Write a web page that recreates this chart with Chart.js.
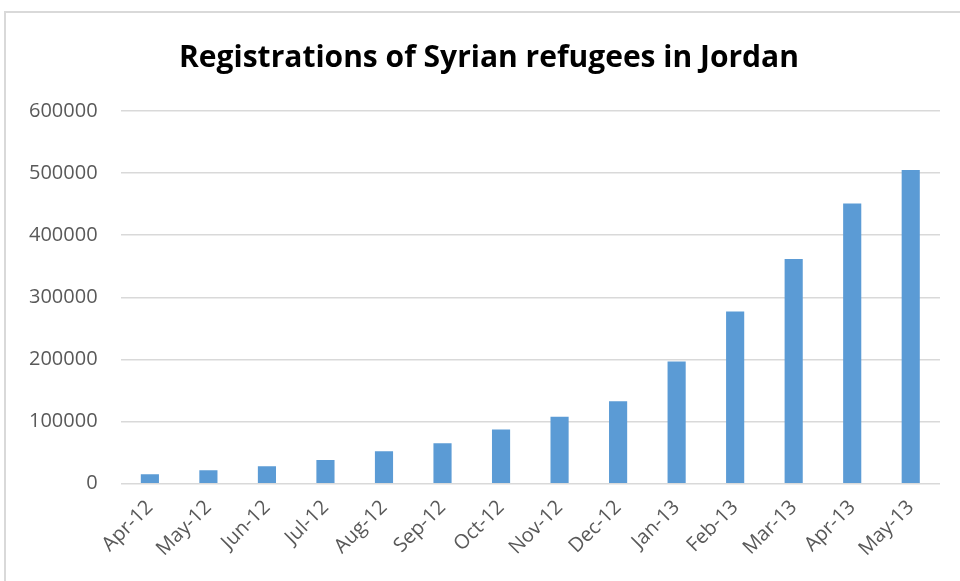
<!DOCTYPE html>
<html lang="en">
<head>
    <meta charset="UTF-8">
    <title>Registrations of Syrian refugees in Jordan</title>
    <script src="https://cdn.jsdelivr.net/npm/chart.js"></script>
    <style>
        body {
            margin: 0;
            background: #ffffff;
            overflow: hidden;
        }
        .frame {
            position: absolute;
            left: 4px;
            top: 11px;
            width: 1000px;
            height: 700px;
            border: 2px solid #d9d9d9;
        }
        .chart-container {
            position: absolute;
            left: 0;
            top: 0;
            width: 980px;
            height: 581px;
        }
    </style>
</head>
<body>
    <div class="frame"></div>
    <div class="chart-container">
        <canvas id="refugeeChart"></canvas>
    </div>
    <script>
        const months = ['Apr-12', 'May-12', 'Jun-12', 'Jul-12', 'Aug-12', 'Sep-12', 'Oct-12',
                        'Nov-12', 'Dec-12', 'Jan-13', 'Feb-13', 'Mar-13', 'Apr-13', 'May-13'];
        const registrations = [15200, 21600, 28100, 38200, 52200, 65100, 87200,
                               107600, 132500, 196500, 277200, 361900, 451200, 505000];
        const yTicks = [0, 100000, 200000, 300000, 400000, 500000, 600000];

        const ctx = document.getElementById('refugeeChart').getContext('2d');
        const refugeeChart = new Chart(ctx, {
            type: 'bar',
            data: {
                labels: months,
                datasets: [{
                    label: 'Registrations',
                    data: registrations,
                    backgroundColor: '#5b9bd5',
                    borderWidth: 0,
                    barPercentage: 0.62,
                    categoryPercentage: 0.5
                }]
            },
            options: {
                responsive: true,
                maintainAspectRatio: false,
                animation: false,
                layout: {
                    padding: { left: 6, right: 8, top: 40, bottom: 16 }
                },
                plugins: {
                    legend: { display: false },
                    tooltip: { enabled: false },
                    title: {
                        display: true,
                        text: 'Registrations of Syrian refugees in Jordan',
                        color: '#000000',
                        font: { family: 'Open Sans', size: 30, weight: 'bold' },
                        padding: { top: 0, bottom: 35 }
                    }
                },
                scales: {
                    x: {
                        grid: { display: false },
                        border: { display: false },
                        ticks: {
                            color: '#595959',
                            font: { family: 'Open Sans', size: 20 },
                            minRotation: 45,
                            maxRotation: 45,
                            padding: 4
                        }
                    },
                    y: {
                        min: 0,
                        max: 600000,
                        afterBuildTicks: (axis) => {
                            axis.ticks = yTicks.map(v => ({ value: v }));
                        },
                        grid: { color: '#d9d9d9', lineWidth: 1.5, drawTicks: false },
                        border: { display: false },
                        ticks: {
                            color: '#595959',
                            font: { family: 'Open Sans', size: 20 },
                            padding: 23,
                            callback: (v) => String(v)
                        }
                    },
                    // empty right-hand gutter so the title centre sits where it does in the original
                    gutter: {
                        type: 'linear',
                        position: 'right',
                        grid: { display: false },
                        border: { display: false },
                        ticks: { display: false },
                        afterFit: (axis) => { axis.width = 32; }
                    }
                }
            }
        });
    </script>
</body>
</html>
